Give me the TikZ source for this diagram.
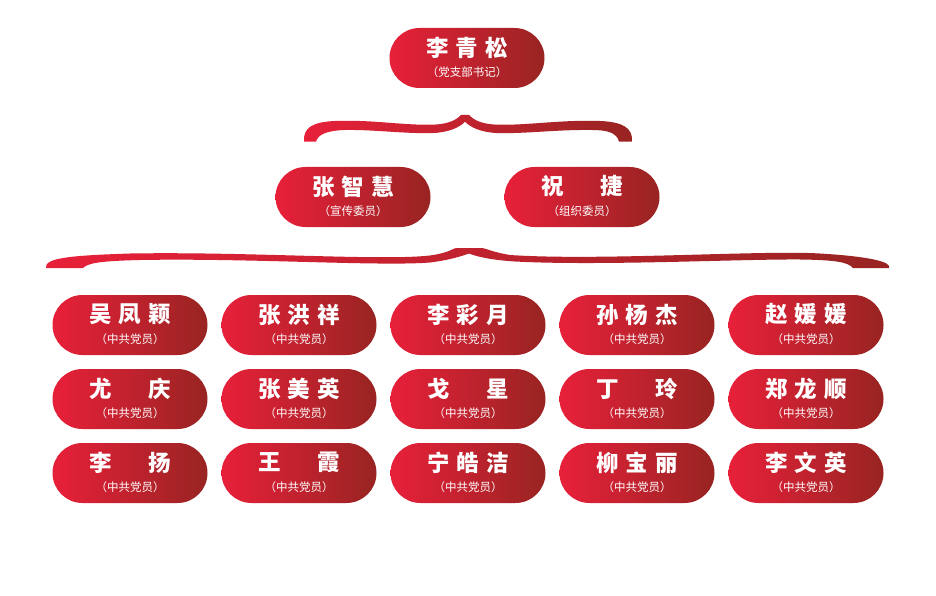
\documentclass[tikz,border=0pt]{standalone}
\usepackage{fontspec}
\newfontfamily\cjk{Noto Sans CJK SC}
\definecolor{pillL}{RGB}{232,32,58}
\definecolor{pillR}{RGB}{152,36,34}
\newcommand\nmc[3]{\hbox to 82pt{#1\hfill#2\hfill#3}}
\newcommand\nmb[2]{\hbox to 82pt{#1\hfill#2}}
\tikzset{
  pillbox/.style={rectangle, rounded corners=30pt, minimum width=155pt, minimum height=60pt,
    inner sep=0pt, left color=pillL, right color=pillR, draw=none},
  nametext/.style={text=white, inner sep=0pt, font=\cjk\bfseries\fontsize{22.5}{22.5}\selectfont},
  subtext/.style={text=white, inner sep=0pt, font=\cjk\fontsize{11.5}{11.5}\selectfont},
  bracefill/.style={left color=pillL, right color=pillR},
}
\newcommand\pill[4]{%
  \node[pillbox] (#1) at (#2) {};
  \node[nametext] (#1n) at ([yshift=10.5pt]#1.center) {#3};
  \node[subtext] (#1s) at ([yshift=-14.5pt]#1.center) {#4};
}
\begin{document}
\begin{tikzpicture}[x=1pt,y=-1pt]
\path[use as bounding box, fill=white] (0,0) rectangle (936,596);

% top
\pill{top}{467,58}{\nmc{李}{青}{松}}{（党支部书记）}

% brace 1
\shade[bracefill]
 (304,141.7)
 .. controls (303,128) and (312,122) .. (335,121)
 .. controls (375,119.5) and (405,126) .. (436,124.5)
 .. controls (452,123.5) and (458,118) .. (461,115)
 -- (469,115)
 .. controls (472,118) and (478,123.5) .. (494,124.5)
 .. controls (525,126) and (560,119.5) .. (600,121)
 .. controls (623,122) and (633,128) .. (632,141.7)
 -- (619,141.7)
 .. controls (617,133) and (608,130) .. (592,130)
 .. controls (555,129.5) and (525,134) .. (496,133)
 .. controls (480,132) and (470,127) .. (465,121.7)
 .. controls (460,127) and (450,132) .. (434,133)
 .. controls (405,134) and (375,129.5) .. (345,130)
 .. controls (328,130.5) and (318,134) .. (316,141.7)
 -- cycle;

% level 2
\pill{zzh}{353,197}{\nmc{张}{智}{慧}}{（宣传委员）}
\pill{zj}{582,197}{\nmb{祝}{捷}}{（组织委员）}

% brace 2
\shade[bracefill]
 (46,268)
 .. controls (44,258) and (70,255.5) .. (130,253.5)
 .. controls (250,251.5) and (380,261) .. (430,255.5)
 .. controls (448,253) and (452,249) .. (456,248)
 -- (482,248)
 .. controls (488,249) and (492,252) .. (510,255)
 .. controls (600,261) and (760,250) .. (820,253.5)
 .. controls (870,256.5) and (892,262) .. (889,268)
 -- (853,268)
 .. controls (848,262) and (835,260) .. (800,259.5)
 .. controls (740,259) and (600,266) .. (515,261.5)
 .. controls (490,260) and (475,256) .. (469,253.5)
 .. controls (462,256) and (450,260) .. (430,262.5)
 .. controls (380,266.5) and (250,258) .. (140,260)
 .. controls (100,261) and (88,263) .. (83,268)
 -- cycle;

% grid
\pill{a1}{130,325}{\nmc{吴}{凤}{颖}}{（中共党员）}
\pill{a2}{299,325}{\nmc{张}{洪}{祥}}{（中共党员）}
\pill{a3}{468,325}{\nmc{李}{彩}{月}}{（中共党员）}
\pill{a4}{637,325}{\nmc{孙}{杨}{杰}}{（中共党员）}
\pill{a5}{806,325}{\nmc{赵}{媛}{媛}}{（中共党员）}
\pill{b1}{130,399}{\nmb{尤}{庆}}{（中共党员）}
\pill{b2}{299,399}{\nmc{张}{美}{英}}{（中共党员）}
\pill{b3}{468,399}{\nmb{戈}{星}}{（中共党员）}
\pill{b4}{637,399}{\nmb{丁}{玲}}{（中共党员）}
\pill{b5}{806,399}{\nmc{郑}{龙}{顺}}{（中共党员）}
\pill{c1}{130,473}{\nmb{李}{扬}}{（中共党员）}
\pill{c2}{299,473}{\nmb{王}{霞}}{（中共党员）}
\pill{c3}{468,473}{\nmc{宁}{皓}{洁}}{（中共党员）}
\pill{c4}{637,473}{\nmc{柳}{宝}{丽}}{（中共党员）}
\pill{c5}{806,473}{\nmc{李}{文}{英}}{（中共党员）}
\end{tikzpicture}
\end{document}
